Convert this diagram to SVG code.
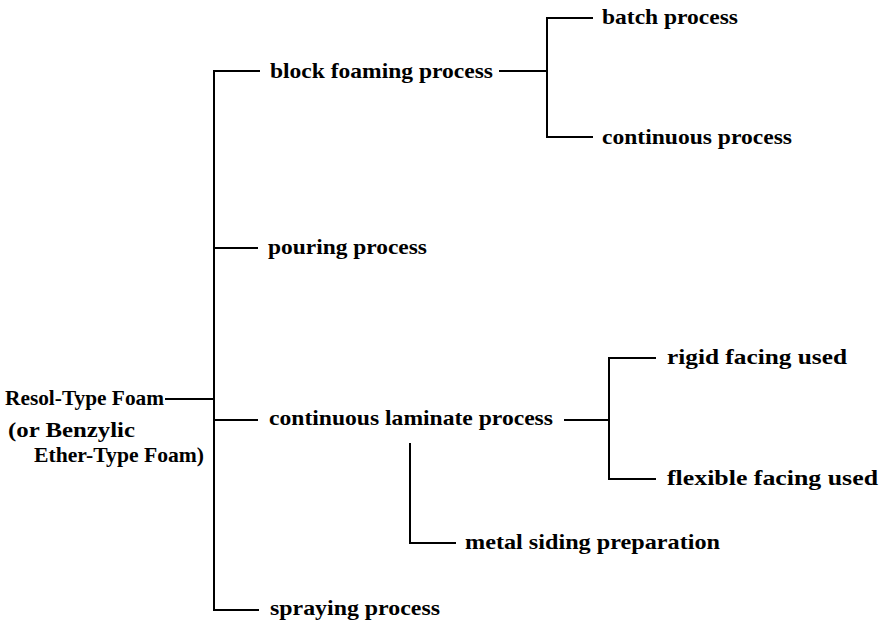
<svg xmlns="http://www.w3.org/2000/svg" width="886" height="621" viewBox="0 0 886 621">
<style>
  text { font-family: "Liberation Serif", "Times New Roman", serif; font-weight: bold; font-size: 21px; fill: #000; }
  .c { stroke: #000; stroke-width: 2; fill: none; stroke-linecap: square; }
</style>
<rect width="886" height="621" fill="#fff"/>
<g id="connectors">
  <path class="c" d="M166 399 H214"/>
  <path class="c" d="M214 71 V610"/>
  <path class="c" d="M214 71 H259"/>
  <path class="c" d="M214 248 H257"/>
  <path class="c" d="M214 420 H257"/>
  <path class="c" d="M214 610 H258"/>
  <path class="c" d="M500 71 H547"/>
  <path class="c" d="M547 18 V137"/>
  <path class="c" d="M547 18 H592"/>
  <path class="c" d="M547 137 H592"/>
  <path class="c" d="M565 420 H609"/>
  <path class="c" d="M609 358 V479"/>
  <path class="c" d="M609 358 H655"/>
  <path class="c" d="M609 479 H655"/>
  <path class="c" d="M410 444 V543"/>
  <path class="c" d="M410 543 H455"/>
</g>
<g id="root">
  <text x="5" y="405" textLength="159" lengthAdjust="spacingAndGlyphs">Resol-Type Foam</text>
  <text x="8" y="437" textLength="127" lengthAdjust="spacingAndGlyphs">(or Benzylic</text>
  <text x="34" y="462" textLength="170" lengthAdjust="spacingAndGlyphs">Ether-Type Foam)</text>
</g>
<g id="block-foaming">
  <text x="270" y="78" textLength="223" lengthAdjust="spacingAndGlyphs">block foaming process</text>
</g>
<g id="batch">
  <text x="602" y="24" textLength="136" lengthAdjust="spacingAndGlyphs">batch process</text>
</g>
<g id="continuous">
  <text x="602" y="144" textLength="190" lengthAdjust="spacingAndGlyphs">continuous process</text>
</g>
<g id="pouring">
  <text x="268" y="254" textLength="159" lengthAdjust="spacingAndGlyphs">pouring process</text>
</g>
<g id="continuous-laminate">
  <text x="269" y="425" textLength="284" lengthAdjust="spacingAndGlyphs">continuous laminate process</text>
</g>
<g id="rigid">
  <text x="667" y="364" textLength="180" lengthAdjust="spacingAndGlyphs">rigid facing used</text>
</g>
<g id="flexible">
  <text x="667" y="485" textLength="211" lengthAdjust="spacingAndGlyphs">flexible facing used</text>
</g>
<g id="metal-siding">
  <text x="465" y="549" textLength="255" lengthAdjust="spacingAndGlyphs">metal siding preparation</text>
</g>
<g id="spraying">
  <text x="270" y="615" textLength="170" lengthAdjust="spacingAndGlyphs">spraying process</text>
</g>
</svg>
